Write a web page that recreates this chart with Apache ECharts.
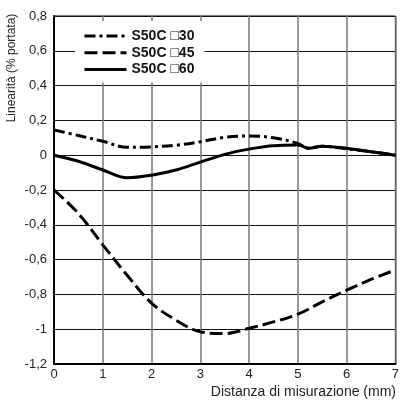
<!DOCTYPE html>
<html><head><meta charset="utf-8">
<script src="https://cdn.jsdelivr.net/npm/echarts@6/dist/echarts.min.js"></script>
<style>html,body{margin:0;padding:0;background:#fff}#c{width:402px;height:403px}</style>
</head><body><div id="c"></div>
<script>
var seriesNames = ['S50C \u25A130', 'S50C \u25A145', 'S50C \u25A160'];
var x30 = [0, 0.5, 1, 1.5, 2, 2.5, 3, 3.5, 4, 4.5, 5, 5.22, 5.5, 6, 6.5, 7];
var y30 = [0.145, 0.113, 0.08, 0.045, 0.048, 0.057, 0.077, 0.103, 0.111, 0.10, 0.068, 0.04, 0.052, 0.037, 0.02, 0];
var x45 = [0, 0.5, 1, 1.5, 2, 2.5, 3, 3.5, 4, 4.5, 5, 5.5, 6, 6.5, 7];
var y45 = [-0.2, -0.335, -0.515, -0.69, -0.85, -0.948, -1.015, -1.025, -0.995, -0.958, -0.914, -0.843, -0.776, -0.714, -0.66];
var x60 = [0, 0.5, 1, 1.5, 2, 2.5, 3, 3.5, 4, 4.5, 5, 5.22, 5.5, 6, 6.5, 7];
var y60 = [0, -0.035, -0.085, -0.13, -0.115, -0.085, -0.04, 0.005, 0.035, 0.055, 0.058, 0.04, 0.052, 0.04, 0.02, 0];
var xAxisTitle = 'Distanza di misurazione (mm)';
var yAxisTitle = 'Linearit\u00e0 (% portata)';

function pairs(xs, ys) { return xs.map(function (x, i) { return [x, ys[i]]; }); }
var FONT = '"Liberation Sans", Arial, sans-serif';

var chart = echarts.init(document.getElementById('c'), null, {renderer: 'canvas'});
chart.setOption({
  animation: false,
  backgroundColor: '#fff',
  grid: {left: 54, right: 5, top: 16, bottom: 39, show: true, borderColor: '#000', borderWidth: 1},
  xAxis: {
    type: 'value', min: 0, max: 7, interval: 1,
    axisLine: {show: true, onZero: false, lineStyle: {color: '#000', width: 2}},
    axisTick: {show: false},
    axisLabel: {color: '#222', fontSize: 13, fontFamily: FONT, margin: 4},
    splitLine: {show: true, lineStyle: {color: '#777', width: 1.5}}
  },
  yAxis: {
    type: 'value', min: -1.2, max: 0.8, interval: 0.2,
    axisLine: {show: true, onZero: false, lineStyle: {color: '#000', width: 2}},
    axisTick: {show: false},
    axisLabel: {color: '#222', fontSize: 13, fontFamily: FONT, margin: 7,
      formatter: function (v) { return String(Math.round(v * 10) / 10).replace('.', ','); }},
    splitLine: {show: true, lineStyle: {color: '#111', width: 1}}
  },
  legend: {
    left: 75, top: 21, orient: 'vertical',
    backgroundColor: '#fff',
    padding: [7, 10, 5, 8],
    itemWidth: 42, itemHeight: 16, itemGap: 0.8,
    data: seriesNames,
    itemStyle: {opacity: 0, color: 'rgba(0,0,0,0)', borderWidth: 0},
    lineStyle: {width: 3, color: '#000'},
    textStyle: {color: '#111', fontSize: 14, fontWeight: 'bold', fontFamily: FONT, lineHeight: 16}
  },
  graphic: [
    {type: 'text', x: 12, y: 68, rotation: Math.PI / 2,
      style: {text: yAxisTitle, fill: '#222', font: '12px ' + FONT, textAlign: 'center', textVerticalAlign: 'middle'}},
    {type: 'text', x: 396, y: 392,
      style: {text: xAxisTitle, fill: '#222', font: '14px ' + FONT, textAlign: 'right', textVerticalAlign: 'middle'}}
  ],
  series: [
    {name: seriesNames[0], type: 'line', data: pairs(x30, y30), smooth: 0.35, symbol: 'none', z: 3,
      lineStyle: {color: '#000', width: 3, type: [11, 4, 3, 4]}, itemStyle: {color: '#000'}},
    {name: seriesNames[1], type: 'line', data: pairs(x45, y45), smooth: 0.35, symbol: 'none', z: 3,
      lineStyle: {color: '#000', width: 3, type: [13, 5]}, itemStyle: {color: '#000'}},
    {name: seriesNames[2], type: 'line', data: pairs(x60, y60), smooth: 0.35, symbol: 'none', z: 3,
      lineStyle: {color: '#000', width: 3, type: 'solid'}, itemStyle: {color: '#000'}}
  ]
});
</script></body></html>
